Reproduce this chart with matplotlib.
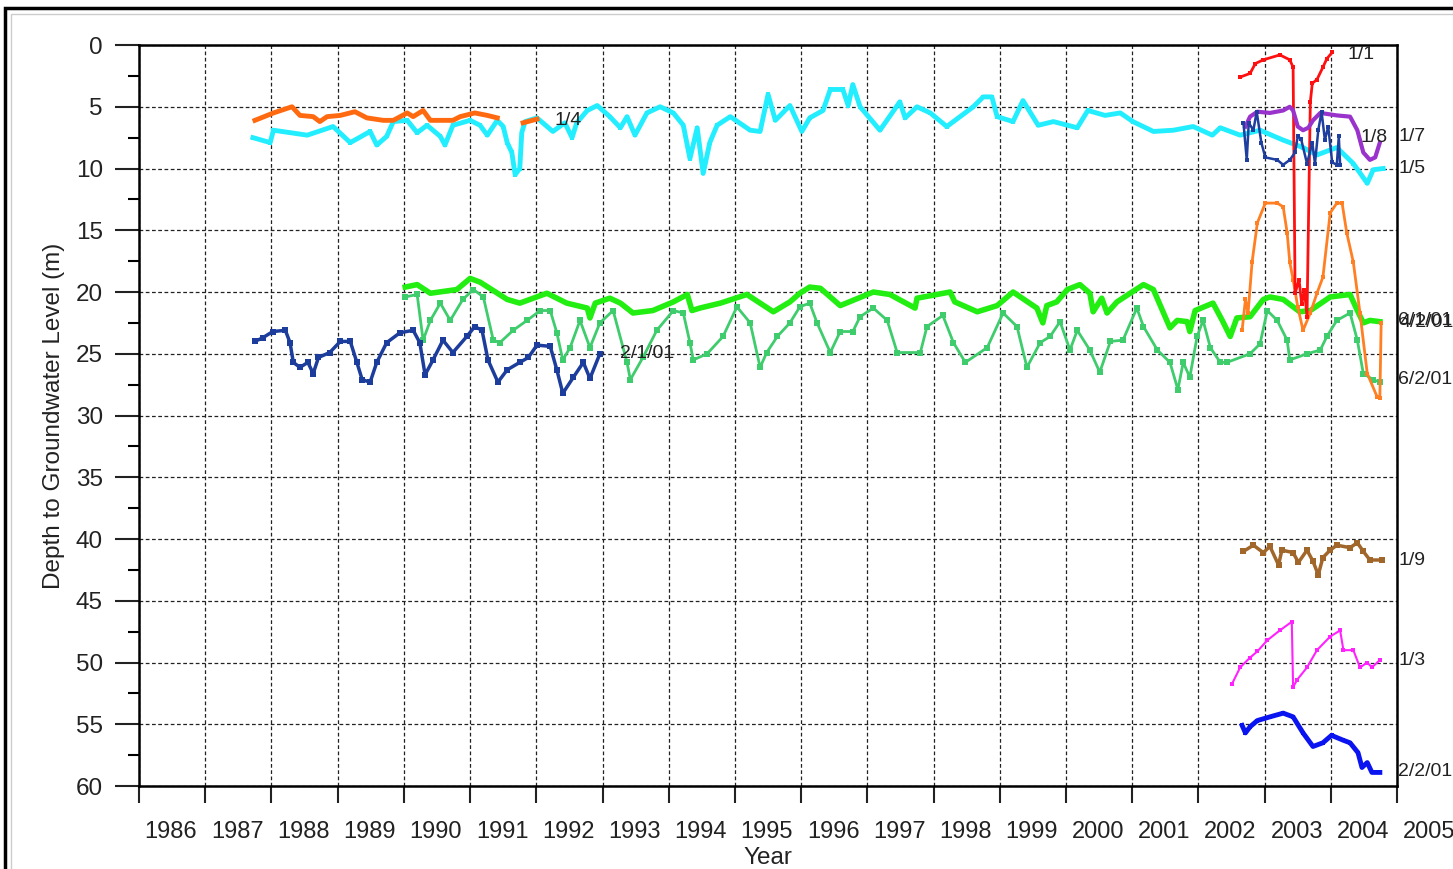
#!/usr/bin/env python3
"""Depth to groundwater level hydrographs, 1986-2005."""

import matplotlib
matplotlib.use("Agg")
import matplotlib.pyplot as plt
import matplotlib.transforms as mtransforms
from matplotlib.patches import Rectangle

plt.rcParams["font.family"] = ["Liberation Sans", "DejaVu Sans"]

# ---- data (decimal year, depth in m) ----
W14_YEAR = [1987.75, 1988.03, 1988.31, 1988.43, 1988.63, 1988.73, 1988.84, 1989.04, 1989.26,
            1989.44, 1989.69, 1989.84, 1990.05, 1990.14, 1990.29, 1990.40, 1990.59, 1990.74,
            1990.85, 1991.07, 1991.26, 1991.41, None, 1991.80, 1992.01]
W14_DEPTH = [6.1, 5.5, 5.0, 5.7, 5.8, 6.2, 5.8, 5.7, 5.4,
             5.9, 6.1, 6.1, 5.5, 5.8, 5.3, 6.1, 6.1, 6.1,
             5.8, 5.5, 5.7, 5.9, None, 6.3, 6.0]

W15_YEAR = [1987.72, 1987.98, 1988.03, 1988.54, 1988.93, 1989.19, 1989.49, 1989.59, 1989.74,
            1989.84, 1990.05, 1990.20, 1990.35, 1990.55, 1990.62, 1990.74, 1991.00, 1991.15,
            1991.26, 1991.41, 1991.50, 1991.56, 1991.63, 1991.68, 1991.75, 1991.78, 1991.83,
            1992.01, 1992.25, 1992.43, 1992.54, 1992.61, 1992.77, 1992.92, 1993.11, 1993.27,
            1993.37, 1993.49, 1993.67, 1993.87, 1994.07, 1994.22, 1994.32, 1994.43, 1994.52,
            1994.62, 1994.73, 1994.93, 1995.23, 1995.38, 1995.50, 1995.61, 1995.83, 1996.01,
            1996.13, 1996.33, 1996.44, 1996.63, 1996.71, 1996.78, 1996.89, 1997.19, 1997.49,
            1997.57, 1997.75, 1997.95, 1998.20, 1998.60, 1998.75, 1998.88, 1998.96, 1999.20,
            1999.35, 1999.58, 1999.81, 2000.17, 2000.33, 2000.59, 2000.82, 2001.01, 2001.32,
            2001.62, 2001.92, 2002.21, 2002.33, 2002.63, 2002.93, 2003.28, 2003.58, 2003.79,
            2004.09, 2004.34, 2004.55, 2004.64, 2004.79]
W15_DEPTH = [7.5, 7.9, 6.9, 7.3, 6.6, 7.9, 7.0, 8.1, 7.4,
             6.2, 6.1, 7.1, 6.5, 7.4, 8.1, 6.5, 6.1, 6.5,
             7.3, 6.1, 6.6, 7.9, 8.7, 10.5, 10.0, 7.1, 6.2,
             5.9, 7.0, 6.3, 7.5, 6.3, 5.3, 4.9, 5.8, 6.7,
             5.8, 7.3, 5.5, 5.0, 5.5, 6.5, 9.2, 6.7, 10.4,
             7.9, 6.5, 5.8, 6.9, 7.0, 4.0, 6.1, 4.9, 7.0,
             5.9, 5.3, 3.6, 3.6, 4.9, 3.2, 5.0, 6.9, 4.6,
             5.9, 5.0, 5.5, 6.6, 5.0, 4.2, 4.2, 5.8, 6.2,
             4.5, 6.5, 6.2, 6.7, 5.3, 5.7, 5.5, 6.2, 7.0,
             6.9, 6.6, 7.3, 6.7, 7.3, 6.9, 7.7, 8.3, 8.9,
             8.3, 9.6, 11.2, 10.1, 10.0]

W2101_YEAR = [1987.75, 1987.87, 1988.02, 1988.21, 1988.28, 1988.33, 1988.43, 1988.55, 1988.63,
              1988.71, 1988.88, 1989.04, 1989.19, 1989.29, 1989.37, 1989.49, 1989.59, 1989.74,
              1989.94, 1990.14, 1990.24, 1990.32, 1990.44, 1990.59, 1990.74, 1990.95, 1991.07,
              1991.18, 1991.27, 1991.42, 1991.56, 1991.75, 1991.88, 1992.01, 1992.21, 1992.31,
              1992.40, 1992.56, 1992.71, 1992.81, 1992.96]
W2101_DEPTH = [24.0, 23.7, 23.2, 23.1, 24.1, 25.7, 26.1, 25.7, 26.6,
               25.3, 24.9, 24.0, 24.0, 25.7, 27.1, 27.3, 25.7, 24.1,
               23.3, 23.1, 24.1, 26.7, 25.5, 23.9, 24.9, 23.6, 22.8,
               23.1, 25.5, 27.3, 26.3, 25.7, 25.3, 24.3, 24.4, 26.3,
               28.2, 26.9, 25.7, 27.0, 25.0]

W6101_YEAR = [1990.02, 1990.20, 1990.40, 1990.80, 1991.00, 1991.15, 1991.56, 1991.75, 1992.16,
              1992.46, 1992.77, 1992.81, 1992.89, 1993.11, 1993.27, 1993.46, 1993.76, 1994.07,
              1994.28, 1994.35, 1994.47, 1994.78, 1995.18, 1995.58, 1995.83, 1995.98, 1996.13,
              1996.29, 1996.59, 1997.09, 1997.34, 1997.72, 1997.75, 1998.25, 1998.32, 1998.66,
              1998.96, 1999.20, 1999.56, 1999.65, 1999.71, 1999.86, 2000.02, 2000.21, 2000.36,
              2000.41, 2000.54, 2000.62, 2000.77, 2001.17, 2001.32, 2001.57, 2001.68, 2001.83,
              2001.87, 2001.95, 2002.22, 2002.36, 2002.48, 2002.58, 2002.78, 2002.98, 2003.08,
              2003.28, 2003.53, 2003.69, 2003.99, 2004.29, 2004.40, 2004.49, 2004.59, 2004.74]
W6101_DEPTH = [19.6, 19.4, 20.1, 19.8, 18.9, 19.2, 20.6, 20.9, 20.1,
               20.9, 21.3, 22.1, 20.9, 20.5, 20.9, 21.7, 21.5, 20.8,
               20.2, 21.5, 21.3, 20.9, 20.2, 21.6, 20.8, 20.1, 19.6,
               19.7, 21.1, 20.0, 20.2, 21.3, 20.5, 20.0, 20.8, 21.6,
               21.1, 20.0, 21.3, 22.5, 21.1, 20.8, 19.8, 19.4, 20.1,
               21.6, 20.5, 21.7, 20.8, 19.4, 19.8, 22.9, 22.3, 22.4,
               23.2, 21.5, 20.9, 22.3, 23.6, 22.1, 22.0, 20.6, 20.4,
               20.6, 21.6, 21.5, 20.4, 20.2, 21.5, 22.5, 22.3, 22.4]

W6201_YEAR = [1990.02, 1990.20, 1990.29, 1990.40, 1990.55, 1990.70, 1990.89, 1991.05, 1991.20,
              1991.35, 1991.45, 1991.65, 1991.86, 1992.06, 1992.21, 1992.31, 1992.40, 1992.51,
              1992.66, 1992.81, 1992.96, 1993.16, 1993.37, 1993.42, 1993.61, 1993.82, 1994.07,
              1994.22, 1994.32, 1994.37, 1994.58, 1994.82, 1995.03, 1995.23, 1995.38, 1995.48,
              1995.64, 1995.83, 1995.98, 1996.13, 1996.24, 1996.44, 1996.59, 1996.78, 1996.89,
              1997.09, 1997.30, 1997.45, 1997.80, 1997.90, 1998.14, 1998.30, 1998.48, 1998.81,
              1999.05, 1999.26, 1999.41, 1999.61, 1999.76, 1999.91, 2000.06, 2000.17, 2000.36,
              2000.51, 2000.67, 2000.86, 2001.07, 2001.17, 2001.38, 2001.57, 2001.69, 2001.77,
              2001.87, 2001.98, 2002.07, 2002.18, 2002.33, 2002.43, 2002.78, 2002.93, 2003.04,
              2003.19, 2003.34, 2003.38, 2003.64, 2003.84, 2003.94, 2004.09, 2004.29, 2004.40,
              2004.49, 2004.64, 2004.74]
W6201_DEPTH = [20.4, 20.2, 23.9, 22.3, 20.9, 22.3, 20.6, 19.8, 20.4,
               23.9, 24.1, 23.1, 22.3, 21.5, 21.5, 23.3, 25.5, 24.5,
               22.3, 24.5, 22.5, 21.5, 25.7, 27.1, 25.3, 23.1, 21.5,
               21.7, 24.1, 25.5, 25.0, 23.6, 21.2, 22.5, 26.1, 24.9,
               23.6, 22.5, 21.2, 20.9, 22.5, 24.9, 23.2, 23.2, 22.0,
               21.3, 22.3, 24.9, 24.9, 22.8, 21.9, 24.1, 25.7, 24.5,
               21.7, 22.8, 26.1, 24.1, 23.6, 22.4, 24.7, 23.1, 24.7,
               26.5, 24.0, 23.9, 21.3, 22.8, 24.7, 25.7, 27.9, 25.7,
               26.9, 23.6, 22.3, 24.5, 25.7, 25.7, 25.0, 24.2, 21.5,
               22.3, 23.9, 25.5, 25.0, 24.7, 23.6, 22.3, 21.7, 23.9,
               26.6, 27.1, 27.3]

W4201_YEAR = [2002.66, 2002.71, 2002.75, 2002.81, 2002.89, 2003.01, 2003.19, 2003.28, 2003.34,
              2003.38, 2003.43, 2003.50, 2003.58, 2003.69, 2003.79, 2003.88, 2003.99, 2004.09,
              2004.17, 2004.24, 2004.34, 2004.44, 2004.55, 2004.70, 2004.74, 2004.76]
W4201_DEPTH = [23.1, 20.6, 21.7, 17.6, 14.4, 12.8, 12.8, 13.1, 15.2,
               17.6, 19.0, 21.2, 23.1, 21.7, 20.1, 18.8, 13.6, 12.8,
               12.8, 15.2, 17.6, 21.7, 26.6, 28.5, 28.6, 22.5]

W11_YEAR = [2002.63, 2002.78, 2002.86, 2002.98, 2003.23, 2003.38, 2003.43, 2003.46, 2003.52,
            2003.56, 2003.60, 2003.64, 2003.69, 2003.72, 2003.79, 2003.88, 2003.94, 2004.02]
W11_DEPTH = [2.6, 2.3, 1.5, 1.2, 0.8, 1.2, 1.8, 20.1, 19.0,
             21.0, 19.8, 22.0, 4.6, 3.1, 2.8, 1.8, 1.1, 0.6]

W18_YEAR = [2002.71, 2002.78, 2002.89, 2003.08, 2003.28, 2003.38, 2003.43, 2003.50, 2003.58,
            2003.66, 2003.73, 2003.84, 2004.09, 2004.29, 2004.40, 2004.49, 2004.59, 2004.67,
            2004.74]
W18_DEPTH = [6.6, 5.8, 5.4, 5.5, 5.3, 5.0, 5.3, 6.6, 6.9,
             6.7, 6.1, 5.5, 5.7, 5.8, 6.9, 8.7, 9.3, 9.1,
             7.9]

W17_YEAR = [2002.68, 2002.73, 2002.76, 2002.83, 2002.88, 2002.95, 2003.01, 2003.19, 2003.28,
            2003.38, 2003.46, 2003.50, 2003.55, 2003.64, 2003.72, 2003.76, 2003.81, 2003.86,
            2003.91, 2003.96, 2004.02, 2004.09, 2004.12, 2004.14]
W17_DEPTH = [6.3, 9.3, 6.3, 6.9, 5.4, 7.9, 9.1, 9.3, 9.7,
             9.3, 8.7, 7.4, 7.6, 9.6, 7.9, 9.6, 6.9, 5.4,
             7.7, 6.6, 9.5, 9.7, 7.4, 9.7]

W19_YEAR = [2002.68, 2002.83, 2002.98, 2003.08, 2003.21, 2003.26, 2003.43, 2003.51, 2003.64,
            2003.73, 2003.81, 2003.88, 2003.99, 2004.09, 2004.29, 2004.40, 2004.49, 2004.59,
            2004.77]
W19_DEPTH = [41.0, 40.5, 41.1, 40.6, 42.1, 40.9, 41.1, 41.9, 40.9,
             41.8, 42.9, 41.5, 40.9, 40.5, 40.7, 40.3, 41.0, 41.7,
             41.7]

W13_YEAR = [2002.51, 2002.63, 2002.78, 2002.89, 2003.04, 2003.23, 2003.41, 2003.43, 2003.49,
            2003.64, 2003.79, 2003.99, 2004.14, 2004.19, 2004.34, 2004.44, 2004.55, 2004.62,
            2004.74]
W13_DEPTH = [51.7, 50.4, 49.6, 49.1, 48.2, 47.4, 46.7, 52.0, 51.4,
             50.4, 49.0, 47.9, 47.4, 49.0, 49.0, 50.4, 50.0, 50.4,
             49.8]

W2201_YEAR = [2002.66, 2002.71, 2002.78, 2002.89, 2003.08, 2003.28, 2003.43, 2003.58, 2003.73,
              2003.88, 2004.01, 2004.19, 2004.29, 2004.41, 2004.47, 2004.55, 2004.62, 2004.74]
W2201_DEPTH = [55.1, 55.7, 55.2, 54.7, 54.4, 54.1, 54.4, 55.7, 56.8,
               56.5, 55.9, 56.3, 56.5, 57.3, 58.5, 58.1, 58.9, 58.9]

# series label text and anchor (year, depth)
LABELS = [
    ("1/1", 2004.25, 0.75),
    ("1/8", 2004.45, 7.45),
    ("1/7", 2005.02, 7.4),
    ("1/5", 2005.02, 10.0),
    ("6/1/01", 2005.02, 22.3),
    ("4/2/01", 2005.04, 22.5),
    ("6/2/01", 2005.02, 27.1),
    ("1/9", 2005.02, 41.7),
    ("1/3", 2005.02, 49.8),
    ("2/2/01", 2005.02, 58.8),
    ("1/4", 1992.27, 6.1),
    ("2/1/01", 1993.27, 25.0),
]

YEARS = list(range(1986, 2006))


def main() -> None:
    fig = plt.figure(figsize=(14.53, 8.69), dpi=100)
    ax = fig.add_axes([0.0957, 0.0955, 0.8658, 0.8527])

    def draw(x, y, color, lw, ms=0, z=2):
        xs = [v if v is not None else float("nan") for v in x]
        ys = [v if v is not None else float("nan") for v in y]
        ax.plot(xs, ys, "-", color=color, linewidth=lw,
                marker="s" if ms else None, markersize=ms,
                markeredgewidth=0, zorder=z)

    draw(W6201_YEAR, W6201_DEPTH, "#3fcc6c", 2.0, 4, 3)
    draw(W6101_YEAR, W6101_DEPTH, "#22ee11", 4.0, 0, 4)
    draw(W2101_YEAR, W2101_DEPTH, "#1c3d9c", 2.5, 4, 4)
    draw(W15_YEAR, W15_DEPTH, "#22eeff", 3.5, 3.5, 3)
    draw(W14_YEAR, W14_DEPTH, "#ff6a10", 3.5, 0, 4)
    draw(W4201_YEAR, W4201_DEPTH, "#ff7f22", 2.0, 3.5, 4)
    draw(W11_YEAR, W11_DEPTH, "#ff1010", 2.0, 3.5, 5)
    draw(W18_YEAR, W18_DEPTH, "#9933cc", 3.0, 0, 5)
    draw(W17_YEAR, W17_DEPTH, "#1f3f9f", 1.8, 3.5, 6)
    draw(W19_YEAR, W19_DEPTH, "#a0662a", 2.5, 4, 4)
    draw(W13_YEAR, W13_DEPTH, "#ff22ff", 1.5, 2.5, 4)
    draw(W2201_YEAR, W2201_DEPTH, "#0a14f0", 3.5, 3.5, 4)

    ax.set_xlim(1986, 2005)
    ax.set_ylim(60, 0)

    ax.set_xticks(YEARS)
    ax.set_xticklabels([str(y) for y in YEARS])
    ax.set_yticks(range(0, 61, 5))
    ax.set_yticks([v + 2.5 for v in range(0, 60, 5)], minor=True)

    ax.tick_params(axis="x", direction="out", length=12, width=1.5, pad=13,
                   labelsize=17, colors="#222222")
    ax.tick_params(axis="y", which="major", direction="out", length=17, width=1.5,
                   pad=9, labelsize=17.5, colors="#222222")
    ax.tick_params(axis="y", which="minor", direction="out", length=8, width=1.5)

    # year labels sit in the middle of each year
    shift = mtransforms.ScaledTranslation(0.32, 0, fig.dpi_scale_trans)
    for lab in ax.get_xticklabels():
        lab.set_transform(lab.get_transform() + shift)

    ax.grid(True, which="major", color="#222222", linestyle=(0, (3, 2)), linewidth=0.9)
    for side in ("left", "bottom", "top", "right"):
        ax.spines[side].set_linewidth(1.8)

    ax.set_xlabel("Year", fontsize=17.5, color="#222222", labelpad=3)
    ax.set_ylabel("Depth to Groundwater Level (m)", fontsize=17.5, color="#222222",
                  labelpad=8)

    for text, x, y in LABELS:
        ax.text(x, y, text, fontsize=14, color="#222222", ha="left", va="center",
                clip_on=False, zorder=8)

    # outer frame of the figure (only left and top edges visible)
    fig.patches.append(Rectangle((5 / 1453, -0.1), 1.2, 1 - 8 / 869 + 0.1,
                                 transform=fig.transFigure, fill=False,
                                 edgecolor="black", linewidth=2.5))
    fig.patches.append(Rectangle((11 / 1453, -0.1), 1.2, 1 - 14 / 869 + 0.1,
                                 transform=fig.transFigure, fill=False,
                                 edgecolor="#cccccc", linewidth=1.0))

    fig.savefig("out.png", dpi=100)
    plt.close(fig)


if __name__ == "__main__":
    main()
